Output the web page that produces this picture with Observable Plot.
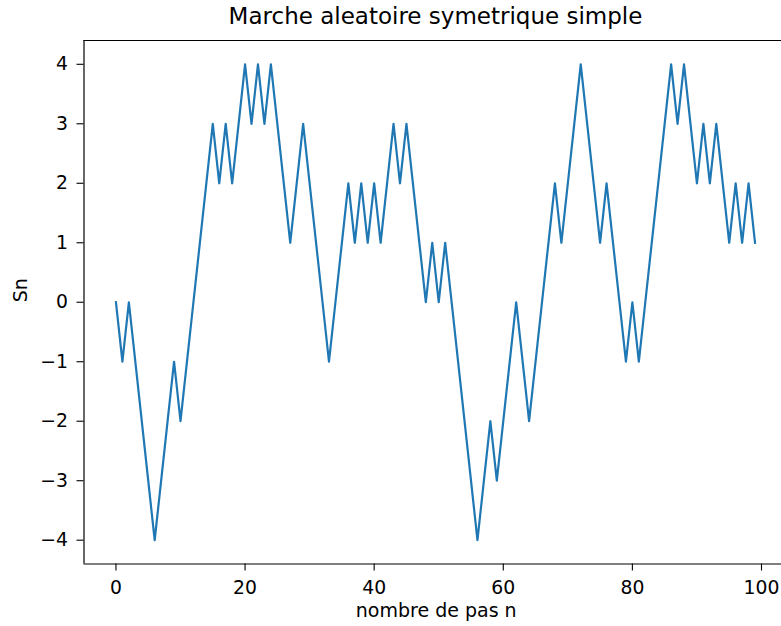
<!DOCTYPE html>
<html>
<head>
<meta charset="utf-8">
<script src="https://cdn.jsdelivr.net/npm/d3@7"></script>
<script src="https://cdn.jsdelivr.net/npm/@observablehq/plot@0.6"></script>
<style>
  html, body { margin: 0; padding: 0; background: white; }
  #wrap { position: relative; width: 781px; height: 626px; overflow: hidden; font-family: "DejaVu Sans", sans-serif; }
  #title { position: absolute; left: 435.5px; top: 3px; transform: translateX(-50%); font-size: 23px; line-height: 27px; white-space: nowrap; color: #000; }
  #chart { position: absolute; left: 0; top: 30px; }
</style>
</head>
<body>
<div id="wrap">
  <div id="title">Marche aleatoire symetrique simple</div>
  <div id="chart"></div>
</div>
<script>
// Symmetric simple random walk S_n, n = 0..99
const Sn = [
  0, -1, 0, -1, -2, -3, -4, -3, -2, -1,
  -2, -1, 0, 1, 2, 3, 2, 3, 2, 3,
  4, 3, 4, 3, 4, 3, 2, 1, 2, 3,
  2, 1, 0, -1, 0, 1, 2, 1, 2, 1,
  2, 1, 2, 3, 2, 3, 2, 1, 0, 1,
  0, 1, 0, -1, -2, -3, -4, -3, -2, -3,
  -2, -1, 0, -1, -2, -1, 0, 1, 2, 1,
  2, 3, 4, 3, 2, 1, 2, 1, 0, -1,
  0, -1, 0, 1, 2, 3, 4, 3, 4, 3,
  2, 3, 2, 3, 2, 1, 2, 1, 2, 1
];
const xTicks = [0, 20, 40, 60, 80, 100];
const yTicks = [-4, -3, -2, -1, 0, 1, 2, 3, 4];
const xDomain = [-4.95, 103.1];
const yDomain = [-4.4, 4.4];
const xLabel = "nombre de pas n";
const yLabel = "Sn";

const data = Sn.map((v, i) => ({n: i, s: v}));
const fmt = d => String(d).replace("-", "\u2212");

const chart = Plot.plot({
  width: 781,
  height: 596,
  marginTop: 10,
  marginBottom: 62.5,
  marginLeft: 83.5,
  marginRight: 0,
  style: {fontFamily: "DejaVu Sans", fontSize: "19px", color: "#000", background: "white", overflow: "visible"},
  x: {domain: xDomain},
  y: {domain: yDomain},
  marks: [
    Plot.axisX({ticks: xTicks, tickSize: 7, tickPadding: 10, tickFormat: fmt, label: null, fontSize: 18.8, strokeWidth: 1.1}),
    Plot.axisY({ticks: yTicks, tickSize: 7, tickPadding: 9, tickFormat: fmt, label: null, fontSize: 18.8, strokeWidth: 1.1}),
    Plot.ruleX([xDomain[0]], {stroke: "#000", strokeWidth: 1.2}),
    Plot.ruleY([yDomain[0], yDomain[1]], {stroke: "#000", strokeWidth: 1.2}),
    Plot.line(data, {x: "n", y: "s", stroke: "#1f77b4", strokeWidth: 2.2, strokeLinejoin: "round", strokeLinecap: "square"}),
    Plot.text([xLabel], {frameAnchor: "bottom", dx: 3.5, dy: 46.5, lineAnchor: "middle", fontSize: 19, fill: "#000"}),
    Plot.text([yLabel], {frameAnchor: "left", dx: -63.5, rotate: -90, lineAnchor: "middle", fontSize: 19, fill: "#000"})
  ]
});
document.getElementById("chart").appendChild(chart);
</script>
</body>
</html>
